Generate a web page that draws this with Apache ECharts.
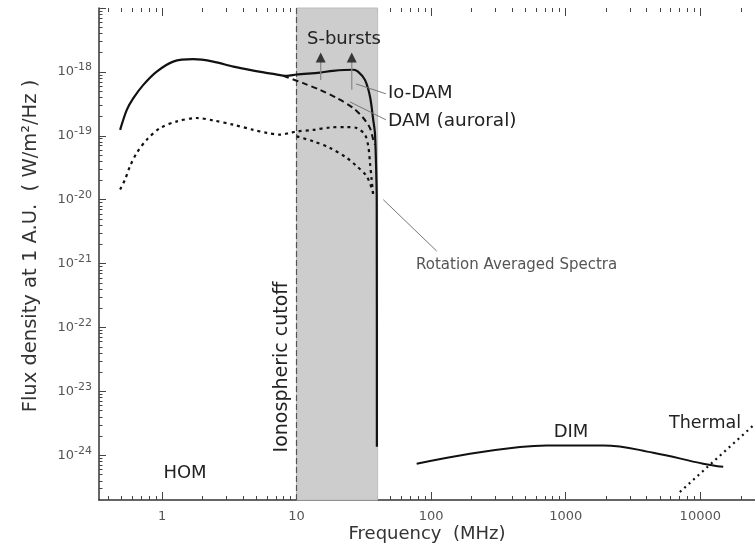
<!DOCTYPE html>
<html><head><meta charset="utf-8">
<script src="https://cdn.jsdelivr.net/npm/echarts@6/dist/echarts.min.js"></script>
<style>html,body{margin:0;padding:0;background:#fff}#c{width:755px;height:553px}</style>
</head><body><div id="c"></div>
<script>
// ---- tick arrays ----
const xTickValues = [1, 10, 100, 1000, 10000];
const xTickLabels = ['1', '10', '100', '1000', '10000'];
const xMinorTicks = [0.4,0.5,0.6,0.7,0.8,0.9, 2,3,4,5,6,7,8,9, 20,30,40,50,60,70,80,90,
  200,300,400,500,600,700,800,900, 2000,3000,4000,5000,6000,7000,8000,9000, 20000];
const yTickValues = [1e-24, 1e-23, 1e-22, 1e-21, 1e-20, 1e-19, 1e-18, 1e-17];
const yTickExponents = ['-24', '-23', '-22', '-21', '-20', '-19', '-18', '-17'];
const yLabelValues = [1e-24, 1e-23, 1e-22, 1e-21, 1e-20, 1e-19, 1e-18];
const yMinorTicks = [3e-25,4e-25,5e-25,6e-25,7e-25,8e-25,9e-25,
  2e-24,3e-24,4e-24,5e-24,6e-24,7e-24,8e-24,9e-24,
  2e-23,3e-23,4e-23,5e-23,6e-23,7e-23,8e-23,9e-23,
  2e-22,3e-22,4e-22,5e-22,6e-22,7e-22,8e-22,9e-22,
  2e-21,3e-21,4e-21,5e-21,6e-21,7e-21,8e-21,9e-21,
  2e-20,3e-20,4e-20,5e-20,6e-20,7e-20,8e-20,9e-20,
  2e-19,3e-19,4e-19,5e-19,6e-19,7e-19,8e-19,9e-19,
  2e-18,3e-18,4e-18,5e-18,6e-18,7e-18,8e-18,9e-18];

// ---- series data [MHz, W/m^2/Hz] ----
const homIoDam = [[0.488,1.24e-19],[0.547,2.55e-19],[0.612,3.89e-19],[0.726,6.27e-19],[0.913,1.01e-18],
  [1.21,1.45e-18],[1.71,1.58e-18],[2.4,1.45e-18],[3.39,1.21e-18],[4.77,1.05e-18],[6.71,9.3e-19],
  [8.44,8.67e-19],[10.0,9.1e-19],[14.9,9.75e-19],[18.6,1.04e-18],[26.4,1.08e-18],[28.6,1.01e-18],
  [32.2,7.5e-19],[35.1,4.12e-19],[37.1,1.78e-19],[38.2,1.1e-19],[38.9,3.8e-20],[39.4,1.0e-20],[39.5,1.36e-24]];
const damAuroral = [[7.96,8.67e-19],[11.2,6.66e-19],[14.9,5.24e-19],[19.9,3.89e-19],[26.4,2.72e-19],
  [31.3,1.9e-19],[35.1,1.32e-19],[37.1,8.7e-20],[38.2,7.3e-20]];
const homIoAvg = [[0.488,1.44e-20],[0.531,2.07e-20],[0.578,3.34e-20],[0.649,5.4e-20],[0.77,8.7e-20],
  [0.966,1.32e-19],[1.29,1.68e-19],[1.81,1.9e-19],[2.4,1.74e-19],[3.39,1.49e-19],[4.77,1.24e-19],
  [6.0,1.11e-19],[7.53,1.04e-19],[8.93,1.11e-19],[10.0,1.17e-19],[13.3,1.24e-19],[17.7,1.35e-19],
  [23.6,1.37e-19],[28.0,1.32e-19],[32.2,1.04e-19],[34.1,6.84e-20],[35.1,3.77e-20],[36.1,2.07e-20],[37.1,1.14e-20]];
const auroralAvg = [[10.0,9.8e-20],[13.3,8.2e-20],[17.7,6.46e-20],[23.6,4.51e-20],[28.0,3.34e-20],
  [33.2,2.33e-20],[37.1,1.28e-20]];
const dim = [[78,7.4e-25],[194,1.06e-24],[457,1.35e-24],[721,1.43e-24],[1900,1.43e-24],
  [4470,1.1e-24],[10500,7.4e-25],[14800,6.6e-25]];
const thermal = [[7050,2.67e-25],[24700,2.92e-24]];
const ionoBand = [10, 40];
const sBurstTips = [[15.1,1.68e-18],[25.7,1.68e-18]];
const sBurstStem1 = [[15.1,7.5e-19],[15.1,1.45e-18]];
const sBurstStem2 = [[25.7,5.24e-19],[25.7,1.45e-18]];
const ioDamPointer = [[27.6,6.5e-19],[46.1,4.54e-19]];
const damPointer = [[24.9,3.4e-19],[46.1,1.78e-19]];
const rotPointer = [[44.1,1.0e-20],[110,1.57e-21]];

const FONT = 'DejaVu Sans';
const X_MIN = 0.34, X_MAX = 25500, Y_MIN = 2e-25, Y_MAX = 1e-17;
const tickCol = '#444';

function xAxisDef(pos, vals, len, labels, line) {
  return {
    type: 'log', logBase: 10, min: X_MIN, max: X_MAX, position: pos,
    axisLine: { show: line, onZero: false, lineStyle: { color: '#333', width: 1.5 } },
    axisTick: { show: true, inside: true, length: len, customValues: vals, lineStyle: { color: tickCol, width: 1 } },
    axisLabel: labels ? { show: true, customValues: vals, margin: 10, color: '#555', fontFamily: FONT, fontSize: 13,
      formatter: v => xTickLabels[xTickValues.indexOf(Math.round(v))] || '' } : { show: false },
    splitLine: { show: false }, minorTick: { show: false }
  };
}
function yAxisDef(vals, len, labels, line) {
  return {
    type: 'log', logBase: 10, min: Y_MIN, max: Y_MAX, position: 'left',
    axisLine: { show: line, onZero: false, lineStyle: { color: '#333', width: 1.5 } },
    axisTick: { show: true, inside: true, length: len, customValues: vals, lineStyle: { color: tickCol, width: 1 } },
    axisLabel: labels ? { show: true, customValues: yLabelValues, margin: 7, fontFamily: FONT,
      formatter: v => '{b|10}{s|' + yTickExponents[yTickValues.findIndex(t => Math.abs(Math.log10(t) - Math.log10(v)) < 0.01)] + '}',
      rich: { b: { fontSize: 13, color: '#555', fontFamily: FONT, lineHeight: 20 },
              s: { fontSize: 11, color: '#555', fontFamily: FONT, lineHeight: 11, verticalAlign: 'top' } } } : { show: false },
    splitLine: { show: false }, minorTick: { show: false }
  };
}

function lineSeries(data, opts) {
  return Object.assign({
    type: 'line', xAxisIndex: 0, yAxisIndex: 0, data: data, showSymbol: false, symbol: 'none',
    silent: true, animation: false, z: 5,
  }, opts);
}

function txt(x, y, text, size, fill, extra) {
  return Object.assign({ type: 'text', x: x, y: y, z: 100, silent: true,
    style: { text: text, fontFamily: FONT, fontSize: size, fill: fill, align: (extra && extra.align) || 'center', verticalAlign: 'middle' } },
    extra && extra.rotation ? { rotation: extra.rotation } : {});
}

const option = {
  animation: false,
  backgroundColor: '#fff',
  grid: { left: 99, right: 0, top: 8, bottom: 53, containLabel: false },
  xAxis: [
    xAxisDef('bottom', xTickValues, 8, true, true),
    xAxisDef('bottom', xMinorTicks, 4, false, false),
    xAxisDef('top', xTickValues, 8, false, false),
    xAxisDef('top', xMinorTicks, 4, false, false)
  ],
  yAxis: [
    yAxisDef(yTickValues, 7, true, true),
    yAxisDef(yMinorTicks, 3.5, false, false)
  ],
  series: [
    {
      type: 'line', data: [], xAxisIndex: 0, yAxisIndex: 0, z: 1, silent: true,
      markArea: { silent: true, itemStyle: { color: '#cdcdcd', borderColor: '#bdbdbd', borderWidth: 1 },
        data: [[{ xAxis: ionoBand[0] }, { xAxis: ionoBand[1] }]] },
      markLine: { silent: true, symbol: 'none', label: { show: false },
        lineStyle: { color: '#555', width: 1.2, type: [6, 3] },
        data: [{ xAxis: ionoBand[0] }] }
    },
    lineSeries(homIoDam, { smooth: 0.3, lineStyle: { color: '#111', width: 2.2 } }),
    lineSeries(damAuroral, { smooth: 0.3, lineStyle: { color: '#111', width: 2, type: [6, 4] } }),
    lineSeries(homIoAvg, { smooth: 0.3, lineStyle: { color: '#111', width: 2.2, type: [3, 4] } }),
    lineSeries(auroralAvg, { smooth: 0.3, lineStyle: { color: '#111', width: 2.2, type: [3, 4] } }),
    lineSeries(dim, { smooth: 0.4, lineStyle: { color: '#111', width: 2 } }),
    lineSeries(thermal, { lineStyle: { color: '#111', width: 2.2, type: [2, 4] } }),
    lineSeries(sBurstStem1, { lineStyle: { color: '#888', width: 1.2 } }),
    lineSeries(sBurstStem2, { lineStyle: { color: '#888', width: 1.2 } }),
    lineSeries(ioDamPointer, { lineStyle: { color: '#777', width: 1 } }),
    lineSeries(damPointer, { lineStyle: { color: '#777', width: 1 } }),
    lineSeries(rotPointer, { lineStyle: { color: '#777', width: 1 } }),
    { type: 'scatter', data: sBurstTips, symbol: 'triangle', symbolSize: [10, 10],
      itemStyle: { color: '#111' }, silent: true, z: 6 }
  ],
  graphic: [
    txt(344, 39, 'S-bursts', 18, '#222'),
    txt(388, 93, 'Io-DAM', 18, '#222', { align: 'left' }),
    txt(388, 121, 'DAM (auroral)', 18.5, '#222', { align: 'left' }),
    txt(416, 265, 'Rotation Averaged Spectra', 15, '#555', { align: 'left' }),
    txt(282, 367, 'Ionospheric cutoff', 19, '#222', { rotation: Math.PI / 2 }),
    txt(185, 473, 'HOM', 18, '#222'),
    txt(571, 432, 'DIM', 18, '#222'),
    txt(705, 423, 'Thermal', 17.5, '#222'),
    txt(427, 534, 'Frequency  (MHz)', 18, '#333'),
    txt(31, 246, 'Flux density at 1 A.U.  ( W/m²/Hz )', 19.5, '#333', { rotation: Math.PI / 2 })
  ]
};

const chart = echarts.init(document.getElementById('c'), null, { renderer: 'canvas' });
chart.setOption(option);
</script></body></html>
